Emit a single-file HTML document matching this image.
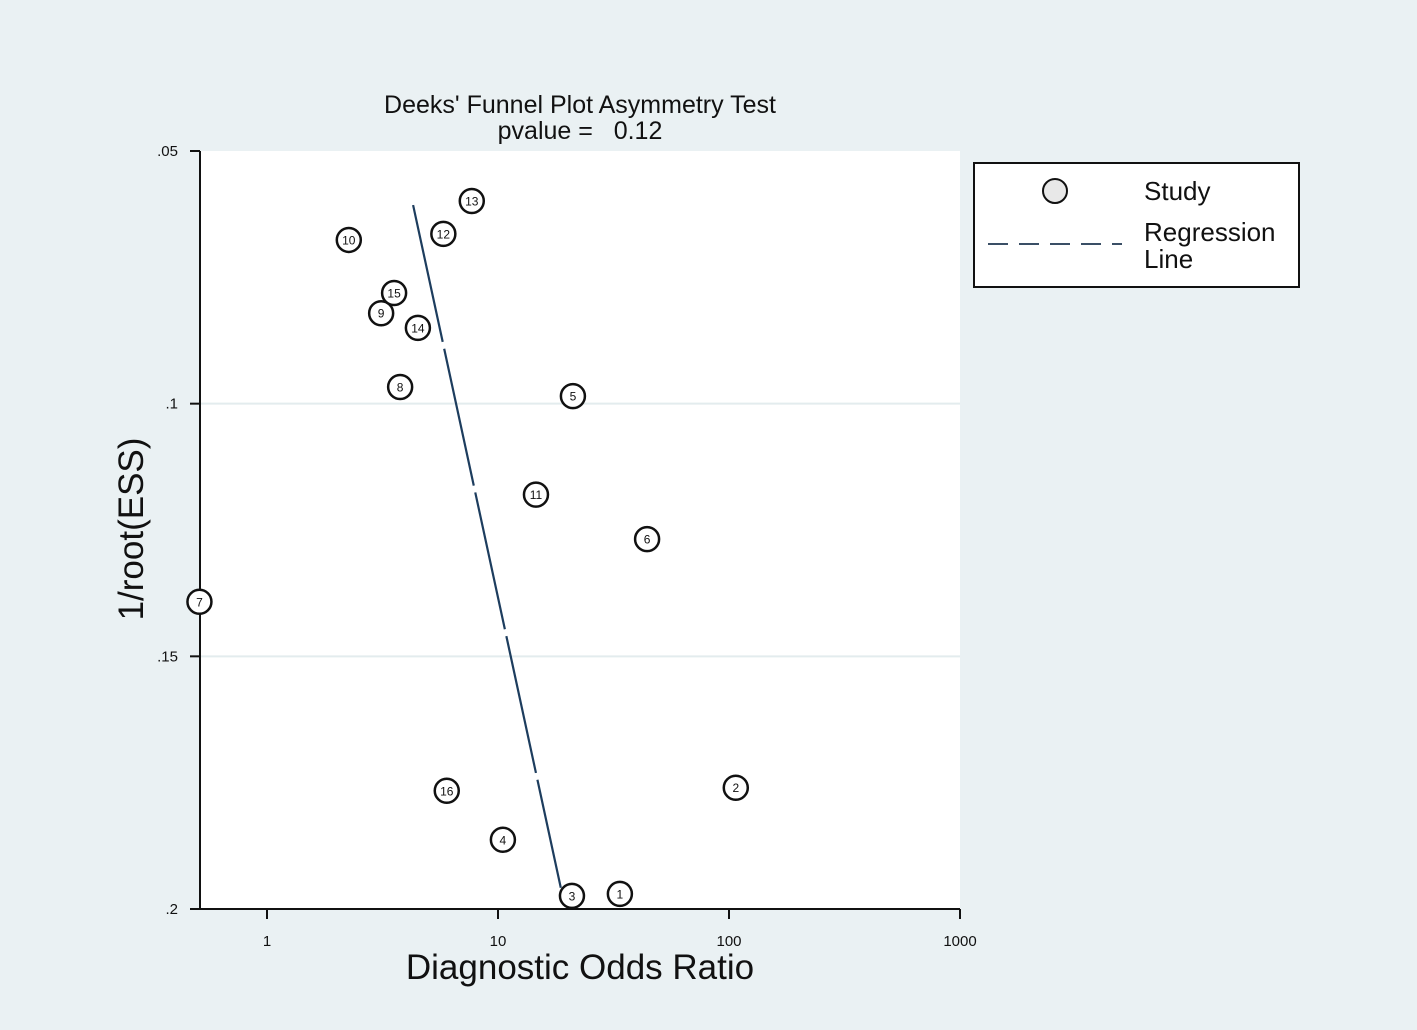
<!DOCTYPE html>
<html><head><meta charset="utf-8"><style>
body{margin:0;background:#eaf1f3;}
svg{display:block;font-family:"Liberation Sans",Arial,sans-serif;}
</style></head><body>
<svg id="chart" width="1417" height="1030" xmlns="http://www.w3.org/2000/svg">
<rect x="0" y="0" width="1417" height="1030" fill="#eaf1f3"/>
<rect x="200" y="151" width="760" height="758" fill="#ffffff"/>
<g id="grid"></g>
<g id="axes"></g>
<g id="marks"></g>
<text x="580" y="113" font-size="25" text-anchor="middle" fill="#111">Deeks' Funnel Plot Asymmetry Test</text>
<text x="580" y="139" font-size="25" text-anchor="middle" fill="#111" xml:space="preserve">pvalue =   0.12</text>
<text x="580" y="979" font-size="35" text-anchor="middle" fill="#111">Diagnostic Odds Ratio</text>
<text transform="translate(143,529) rotate(-90)" font-size="35" text-anchor="middle" fill="#111">1/root(ESS)</text>
<g>
<rect x="974" y="163" width="325" height="124" fill="#fff" stroke="#111" stroke-width="2"/>
<circle cx="1055" cy="191" r="12" fill="#e8e8e8" stroke="#111" stroke-width="2"/>
<text x="1144" y="200" font-size="26" fill="#111">Study</text>
<line x1="988" y1="244" x2="1122" y2="244" stroke="#3a4f66" stroke-width="2" stroke-dasharray="20,11"/>
<text x="1144" y="241" font-size="26" fill="#111">Regression</text>
<text x="1144" y="268" font-size="26" fill="#111">Line</text>
</g>
</svg>
<script>
const studyIds = [1,2,3,4,5,6,7,8,9,10,11,12,13,14,15,16];
const dorValues = [33.7,107,20.9,10.5,21.1,44.2,0.51,3.77,3.12,2.26,14.6,5.8,7.7,4.5,3.55,6.0];
const essValues = [0.197,0.176,0.1974,0.1863,0.0985,0.1268,0.1392,0.0967,0.0821,0.0676,0.118,0.0664,0.0599,0.085,0.0781,0.1766];
const regDor = [4.29,18.7];
const regEss = [0.0607,0.1958];
const xTicks = [1,10,100,1000];
const xTickLabels = ["1","10","100","1000"];
const yTicks = [0.05,0.1,0.15,0.2];
const yTickLabels = [".05",".1",".15",".2"];

const NS="http://www.w3.org/2000/svg";
const X0=200,X1=960,Y0=151,Y1=909;
function xs(v){return 267+Math.log10(v)*231;}
function ys(v){return Y0+(v-0.05)/0.15*(Y1-Y0);}
function mk(tag,attrs,parent){const e=document.createElementNS(NS,tag);for(const k in attrs)e.setAttribute(k,attrs[k]);parent.appendChild(e);return e;}
const grid=document.getElementById('grid'),axes=document.getElementById('axes'),marks=document.getElementById('marks');

yTicks.forEach((t,i)=>{
  const y=ys(t);
  if(i>0&&i<yTicks.length-1){
    const g=mk('line',{x1:X0,x2:X1,y1:y,y2:y,stroke:'#e3ecee','stroke-width':2},grid);
    
    
  }
  const tk=mk('line',{x1:X0-10,x2:X0,y1:y,y2:y,stroke:'#111','stroke-width':2},axes);
  
  
  const tx=mk('text',{x:X0-22,y:y+5,'font-size':15,'text-anchor':'end',fill:'#111'},axes);
  tx.textContent=yTickLabels[i];
  
  
});
const ya=mk('line',{x1:X0,x2:X0,y1:Y0,y2:Y1,stroke:'#111','stroke-width':2},axes);


const xa=mk('line',{x1:X0,x2:X1,y1:Y1,y2:Y1,stroke:'#111','stroke-width':2},axes);


xTicks.forEach((t,i)=>{
  const x=xs(t);
  const tk=mk('line',{x1:x,x2:x,y1:Y1,y2:Y1+10,stroke:'#111','stroke-width':2},axes);
  
  
  const tx=mk('text',{x:x,y:Y1+37,'font-size':15,'text-anchor':'middle',fill:'#111'},axes);
  tx.textContent=xTickLabels[i];
  
  
});

const rl=mk('line',{x1:xs(regDor[0]),y1:ys(regEss[0]),x2:xs(regDor[1]),y2:ys(regEss[1]),stroke:'#1d3d5e','stroke-width':2.2,'stroke-dasharray':'140,7'},marks);



studyIds.forEach((id,i)=>{
  const cx=xs(dorValues[i]),cy=ys(essValues[i]);
  const g=mk('g',{},marks);
  
  
  mk('circle',{cx:cx,cy:cy,r:12,fill:'#fff',stroke:'#111','stroke-width':2.5},g);
  const t=mk('text',{x:cx,y:cy+4.5,'font-size':12,'text-anchor':'middle',fill:'#111'},g);
  t.textContent=id;
});
</script>
</body></html>
